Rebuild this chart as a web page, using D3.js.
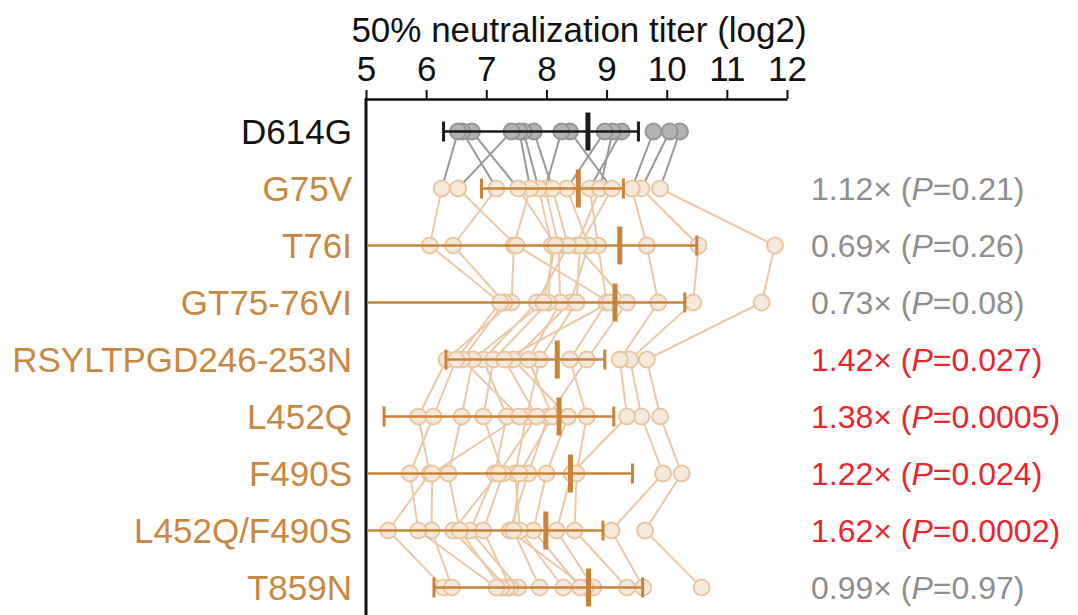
<!DOCTYPE html>
<html>
<head>
<meta charset="utf-8">
<script src="https://cdn.jsdelivr.net/npm/d3@7"></script>
<style>
  body { margin: 0; background: #fff; }
  text { font-family: "Liberation Sans", Arial, Helvetica, sans-serif; }
</style>
</head>
<body>
<script>
// rows (D614G reference first, then variants)
var rows = ['D614G', 'G75V', 'T76I', 'GT75-76VI', 'RSYLTPGD246-253N', 'L452Q', 'F490S', 'L452Q/F490S', 'T859N'];

// per-row titers (log2), same serum order in every array
var d614g  = [10.22, 10.05, 9.78, 9.25, 9.10, 8.97, 8.39, 8.25, 7.79, 7.62, 7.55, 7.42, 6.76, 6.60, 6.53];
var g75v   = [9.89, 9.58, 9.42, 8.72, 8.89, 8.34, 9.09, 7.98, 8.10, 7.87, 7.73, 6.53, 7.53, 7.17, 6.26];
var t76i   = [11.80, 10.53, 9.67, 8.86, 8.50, 8.70, 8.56, 8.20, 8.36, 8.09, 7.46, 7.50, 8.15, 6.45, 6.06];
var gt7576 = [11.58, 10.44, 9.86, 9.00, 9.34, 8.40, 8.50, 8.23, 7.84, 8.03, 7.42, 9.05, 7.95, 7.30, 7.23];
var rsyl   = [9.67, 9.39, 9.22, 8.39, 8.67, 7.45, 7.89, 7.70, 6.95, 7.12, 6.34, 7.30, 6.78, 6.60, 6.50];
var l452q  = [9.89, 9.58, 9.34, 8.67, 8.03, 8.36, 7.67, 8.10, 7.34, 6.95, 5.87, 7.84, 6.59, 7.55, 6.12];
var f490s  = [10.25, 9.94, 8.42, 8.50, 7.70, 8.00, 7.48, 7.55, 7.14, 7.28, 6.06, 7.20, 6.37, 6.10, 5.73];
var lqfs   = [9.64, 9.08, 8.17, 8.47, 7.39, 7.78, 7.56, 7.45, 6.73, 6.95, 5.37, 6.45, 6.56, 6.09, 5.87];
var t859n  = [10.58, 9.61, 8.78, 9.34, 8.65, 8.56, 8.28, 7.89, 7.53, 7.40, 6.29, 7.34, 7.25, 6.43, 7.17];
var titers = [d614g, g75v, t76i, gt7576, rsyl, l452q, f490s, lqfs, t859n];

// mean and error bar ends per row
var means  = [8.69, 8.53, 9.22, 9.14, 8.18, 8.21, 8.40, 7.99, 8.70];
var errLo  = [6.29, 6.92, 4.00, 4.00, 6.33, 5.30, 4.00, 4.00, 6.13];
var errHi  = [9.53, 9.28, 10.50, 10.30, 8.97, 9.12, 9.43, 8.94, 9.60];

// fold change vs D614G and P values (variants only)
var folds = ['1.12', '0.69', '0.73', '1.42', '1.38', '1.22', '1.62', '0.99'];
var pvals = ['0.21', '0.26', '0.08', '0.027', '0.0005', '0.024', '0.0002', '0.97'];

var xTicks = [5, 6, 7, 8, 9, 10, 11, 12];

var width = 1078, height = 615;
var orange = '#c98439', lineTan = '#eacaa6', ptFill = '#f5e9dc', ptStroke = '#e9c6a0';

var svg = d3.select('body').append('svg')
    .attr('width', width)
    .attr('height', height);

var x = d3.scaleLinear().domain([5, 12]).range([366, 787]);
var y = d3.scalePoint().domain(rows).range([131.5, 587.5]);

svg.append('defs').append('clipPath').attr('id', 'plotclip')
  .append('rect').attr('x', 367).attr('y', 100).attr('width', 700).attr('height', 515);

// top axis
var axis = d3.axisTop(x).tickValues(xTicks).tickFormat(d3.format('d'))
    .tickSize(9).tickSizeOuter(0).tickPadding(9);
var gx = svg.append('g').attr('transform', 'translate(0,99)').call(axis);
gx.select('.domain').attr('stroke', '#111').attr('stroke-width', 2.5);
gx.selectAll('.tick line').attr('stroke', '#111').attr('stroke-width', 2);
gx.selectAll('.tick text')
    .attr('font-size', 35)
    .attr('fill', '#111')
    .style('font-family', '"Liberation Sans", Arial, sans-serif');

svg.append('text')
    .attr('x', 579).attr('y', 42)
    .attr('text-anchor', 'middle')
    .attr('font-size', 35)
    .attr('fill', '#111')
    .text('50% neutralization titer (log2)');

// left axis line
svg.append('line')
    .attr('x1', 366).attr('x2', 366)
    .attr('y1', 98).attr('y2', height)
    .attr('stroke', '#111').attr('stroke-width', 3);

// connecting lines per serum, row to row
var plot = svg.append('g').attr('clip-path', 'url(#plotclip)');
var segs = [];
for (var r = 0; r < rows.length - 1; r++) {
    for (var s = 0; s < d614g.length; s++) {
        segs.push({ r: r, a: titers[r][s], b: titers[r + 1][s] });
    }
}
plot.selectAll('line.link')
    .data(segs)
    .enter().append('line')
    .attr('class', 'link')
    .attr('x1', function(d) { return x(d.a); })
    .attr('y1', function(d) { return y(rows[d.r]); })
    .attr('x2', function(d) { return x(d.b); })
    .attr('y2', function(d) { return y(rows[d.r + 1]); })
    .attr('stroke', function(d) { return d.r === 0 ? '#999' : lineTan; })
    .attr('stroke-width', 2);

// points
var pts = [];
titers.forEach(function(arr, r) {
    arr.forEach(function(v) { pts.push({ r: r, v: v }); });
});
plot.selectAll('circle.pt')
    .data(pts)
    .enter().append('circle')
    .attr('class', 'pt')
    .attr('cx', function(d) { return x(d.v); })
    .attr('cy', function(d) { return y(rows[d.r]); })
    .attr('r', 8)
    .attr('fill', function(d) { return d.r === 0 ? '#b3b3b3' : ptFill; })
    .attr('stroke', function(d) { return d.r === 0 ? '#959595' : ptStroke; })
    .attr('stroke-width', 2);

// error bars and means
var stats = rows.map(function(name, i) {
    return { name: name, m: means[i], lo: errLo[i], hi: errHi[i], c: i === 0 ? '#1a1a1a' : orange };
});
var eb = plot.selectAll('g.eb').data(stats).enter().append('g').attr('class', 'eb');
eb.append('line')
    .attr('x1', function(d) { return x(d.lo); })
    .attr('x2', function(d) { return x(d.hi); })
    .attr('y1', function(d) { return y(d.name); })
    .attr('y2', function(d) { return y(d.name); })
    .attr('stroke', function(d) { return d.c; })
    .attr('stroke-width', 2.6);
eb.selectAll('line.cap')
    .data(function(d) { return [d.lo, d.hi].map(function(v) { return { v: v, name: d.name, c: d.c }; }); })
    .enter().append('line')
    .attr('class', 'cap')
    .attr('x1', function(d) { return x(d.v); })
    .attr('x2', function(d) { return x(d.v); })
    .attr('y1', function(d) { return y(d.name) - 10; })
    .attr('y2', function(d) { return y(d.name) + 10; })
    .attr('stroke', function(d) { return d.c; })
    .attr('stroke-width', 3);
eb.append('line')
    .attr('x1', function(d) { return x(d.m); })
    .attr('x2', function(d) { return x(d.m); })
    .attr('y1', function(d) { return y(d.name) - 19; })
    .attr('y2', function(d) { return y(d.name) + 19; })
    .attr('stroke', function(d) { return d.c; })
    .attr('stroke-width', 5);

// row labels
svg.selectAll('text.rowlab')
    .data(rows)
    .enter().append('text')
    .attr('class', 'rowlab')
    .attr('x', 352)
    .attr('y', function(d) { return y(d); })
    .attr('dy', '0.36em')
    .attr('text-anchor', 'end')
    .attr('font-size', 35)
    .attr('fill', function(d, i) { return i === 0 ? '#111' : '#c98842'; })
    .text(function(d) { return d; });

// fold change annotations
var ann = svg.selectAll('text.ann')
    .data(folds)
    .enter().append('text')
    .attr('class', 'ann')
    .attr('x', 811)
    .attr('y', function(d, i) { return y(rows[i + 1]); })
    .attr('dy', '0.36em')
    .attr('font-size', 32)
    .attr('fill', function(d, i) { return +pvals[i] < 0.05 ? '#e8262b' : '#8e8e8e'; });
ann.append('tspan').text(function(d) { return d + '\u00d7 ('; });
ann.append('tspan').attr('font-style', 'italic').text('P');
ann.append('tspan').text(function(d, i) { return '=' + pvals[i] + ')'; });
</script>
</body>
</html>
